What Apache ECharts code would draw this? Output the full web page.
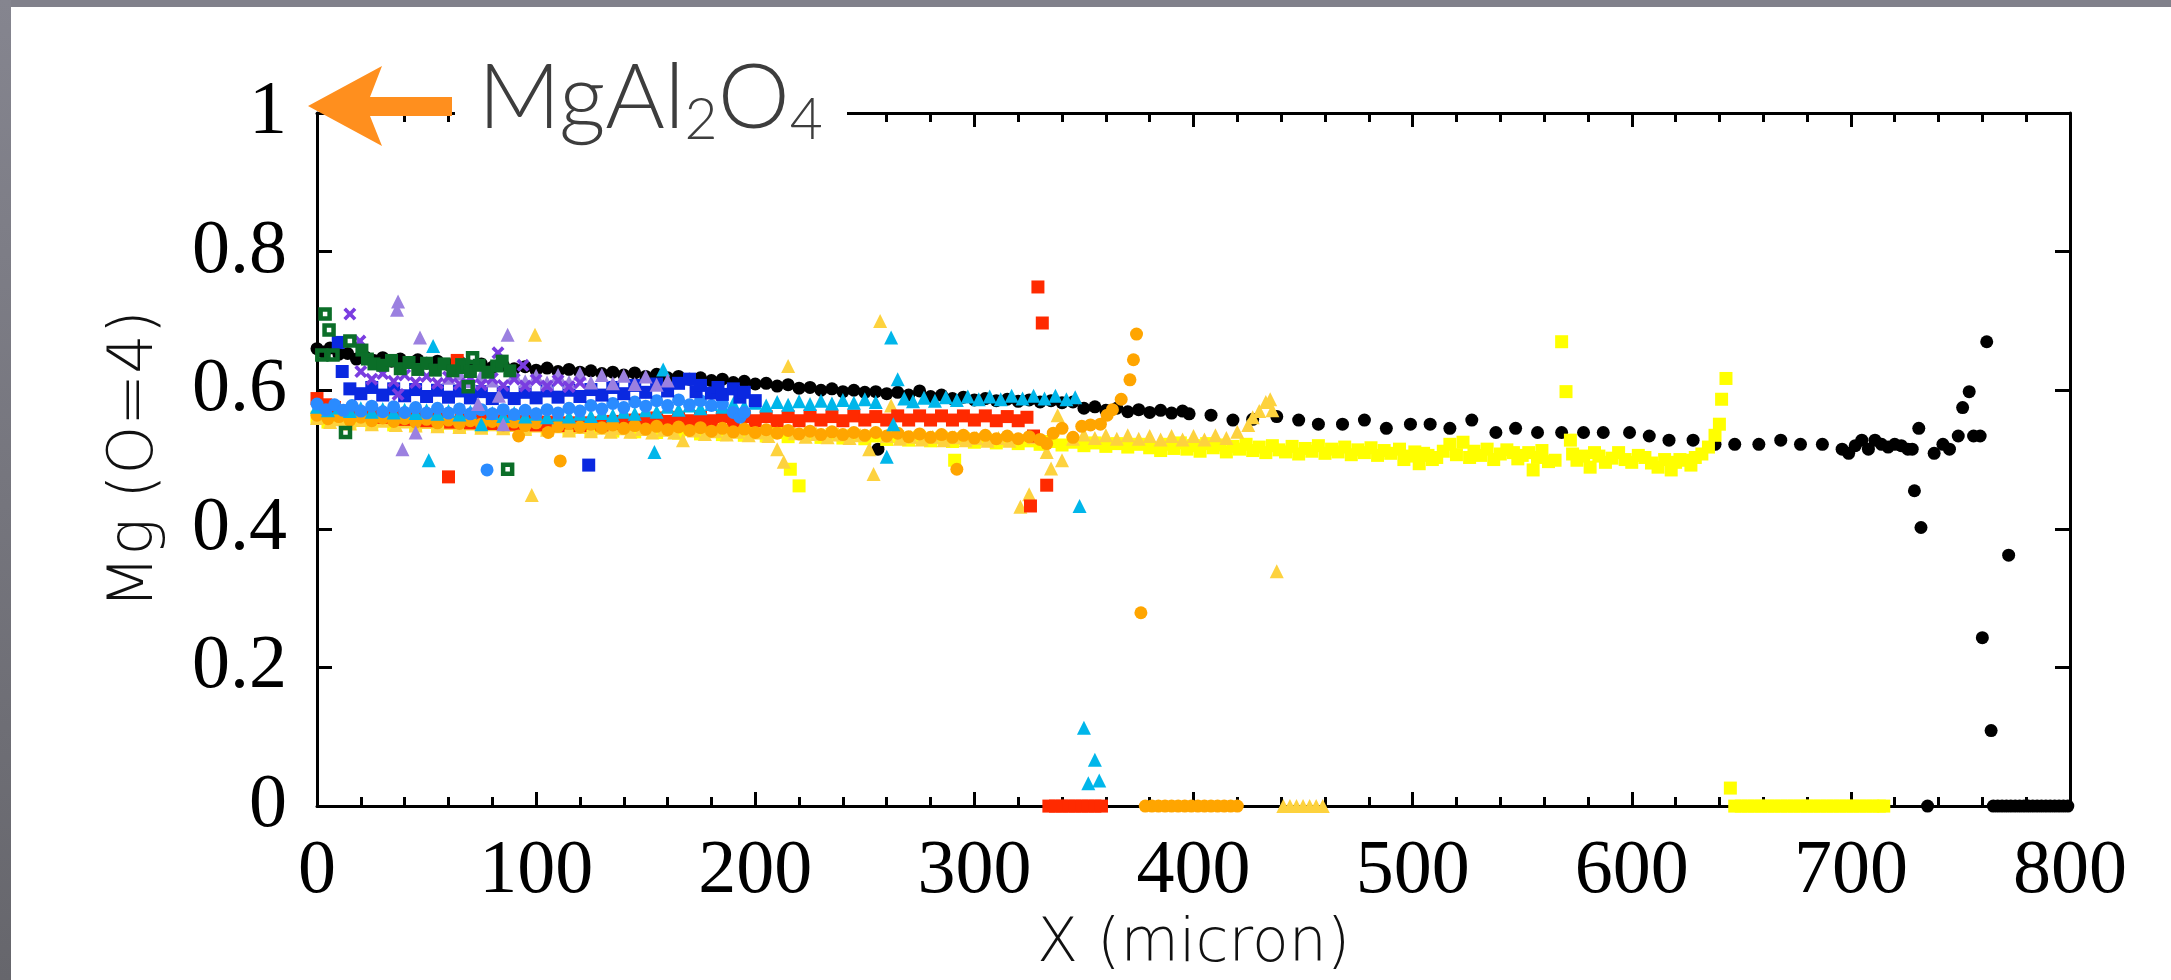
<!DOCTYPE html>
<html><head><meta charset="utf-8">
<script src="https://cdn.jsdelivr.net/npm/echarts@6/dist/echarts.min.js"></script>
<style>
html,body{margin:0;padding:0;background:#fff;overflow:hidden;}
#chart{position:absolute;left:0;top:0;width:2171px;height:980px;}
#fTop{position:absolute;left:0;top:0;width:2171px;height:7px;background:#81818b;z-index:5}
#fLeft{position:absolute;left:0;top:0;width:11px;height:980px;background:linear-gradient(#85858f,#66666c);z-index:5}
</style></head><body>
<div id="chart"></div><div id="fTop"></div><div id="fLeft"></div>
<script>
// ---- axis settings ----
const xRange = [0, 800], xStep = 100;
const yRange = [0, 1], yStep = 0.2;
const xTitle = 'X (micron)';
const yTitle = 'Mg (O=4)';
const phaseLabel = ['MgAl', '2', 'O', '4'];

// ---- series values [X (micron), Mg] ----
const blackCircles = [[0,.660],[3,.655],[6,.661],[10,.652],[14,.653],[18,.645],[22,.648],[26,.643],[30,.647],[34,.642],[38,.645],[42,.640],[46,.644],[50,.639],[55,.642],[60,.637],[65,.641],[70,.635],[75,.638],[80,.633],[85,.636],[90,.631],[95,.634],[100,.629],[105,.632],[110,.627],[115,.630],[120,.626],[125,.628],[130,.624],[135,.626],[140,.622],[145,.625],[150,.620],[155,.623],[160,.618],[165,.620],[170,.616],[175,.618],[180,.614],[185,.616],[190,.611],[195,.613],[200,.609],[205,.610],[210,.606],[215,.608],[220,.603],[225,.604],[230,.600],[235,.602],[240,.598],[245,.600],[250,.597],[255,.598],[256,.515],[260,.595],[265,.597],[270,.593],[275,.599],[280,.591],[285,.593],[290,.588],[295,.590],[300,.586],[305,.588],[310,.585],[315,.587],[320,.584],[325,.586],[330,.583],[335,.585],[340,.582],[345,.583],[350,.574],[355,.576],[360,.571],[365,.574],[370,.569],[375,.572],[380,.568],[385,.571],[390,.567],[395,.570],[398,.566],
[408,.564],[418,.557],[427,.558],[438,.562],[448,.557],[457,.551],[468,.551],[478,.557],[488,.545],[499,.551],[508,.551],[517,.545],[527,.557],[538,.539],[547,.545],[557,.539],[568,.539],[578,.539],[587,.539],[599,.539],[608,.534],[617,.528],[628,.528],[638,.522],[647,.522],[658,.522],[668,.528],[677,.522],[687,.522],[696,.515],[699,.509],[702,.520],[705,.528],[708,.515],[711,.528],[714,.522],[717,.518],[720,.522],[723,.520],[726,.515],[728,.515],[729,.455],[731,.545],[732,.402],[735,0],[738,.509],[742,.522],[745,.515],[749,.534],[751,.575],[754,.598],[756,.534],[759,.534],[760,.243],[762,.670],[764,.109],[772,.362],
[765,0],[767,0],[769,0],[771,0],[773,0],[775,0],[777,0],[779,0],[781,0],[783,0],[785,0],[787,0],[789,0],[791,0],[793,0],[795,0],[797,0],[799,0]];

const yellowSquares = [[0,.561],[5,.554],[10,.559],[15,.552],[20,.557],[25,.551],[30,.557],[35,.550],[40,.555],[45,.549],[50,.554],[55,.548],[60,.553],[65,.547],[70,.553],[75,.546],[80,.551],[85,.545],[90,.550],[95,.545],[100,.549],[105,.544],[110,.548],[115,.543],[120,.548],[125,.542],[130,.547],[135,.541],[140,.546],[145,.540],[150,.545],[155,.539],[160,.544],[165,.538],[170,.543],[175,.537],[180,.542],[185,.536],[190,.541],[195,.535],[200,.540],[205,.534],[210,.539],[215,.533],[216,.486],[220,.462],[225,.537],[230,.532],[235,.536],[240,.531],[245,.535],[250,.530],[255,.534],[260,.529],[265,.533],[270,.528],[275,.532],[280,.527],[285,.531],[290,.526],[291,.499],[295,.530],[300,.525],[305,.529],[310,.524],[315,.528],[320,.523],[325,.527],[330,.522],[335,.526],[340,.521],[345,.525],[350,.520],[355,.524],[360,.519],[365,.523],[370,.518],[375,.522],[380,.517],
[385,.513],[388,.522],[391,.516],[394,.524],[397,.515],[400,.520],[403,.512],[406,.523],[409,.517],[412,.521],[415,.511],[418,.519],[421,.515],[424,.522],[427,.513],[430,.518],[433,.510],[436,.520],[439,.514],[442,.511],[445,.519],[448,.508],[451,.516],[454,.512],[457,.520],[460,.509],[463,.515],[466,.511],[469,.518],[472,.507],[475,.514],[478,.510],[481,.517],[484,.506],[487,.513],[490,.509],[494,.515],[496,.500],[498,.505],[501,.511],[503,.494],[505,.509],[507,.506],[509,.500],[511,.503],[514,.512],[517,.522],[520,.507],[523,.525],[526,.503],[528,.512],[531,.506],[534,.515],[537,.500],[540,.508],[543,.514],[546,.510],[548,.501],[550,.506],[553,.510],[555,.485],[557,.503],[559,.513],[562,.497],[565,.499],[568,.670],[570,.598],[572,.528],[573,.508],[575,.499],[578,.505],[581,.489],[583,.510],[585,.505],[588,.496],[591,.502],[594,.510],[597,.500],[600,.496],[603,.506],[606,.503],[609,.495],[612,.489],[615,.500],[618,.485],[620,.496],[622,.500],[625,.499],[627,.492],[629,.503],[632,.508],[635,.518],[638,.535],[640,.551],[641,.587],[643,.617],[645,.026],
[647,0],[650,0],[653,0],[656,0],[659,0],[662,0],[665,0],[668,0],[671,0],[674,0],[677,0],[680,0],[683,0],[686,0],[689,0],[692,0],[695,0],[698,0],[701,0],[704,0],[707,0],[710,0],[713,0],[715,0]];

const goldTriangles = [[0,.560],[6,.554],[10,.558],[15,.552],[20,.557],[25,.551],[30,.556],[36,.550],[40,.555],[45,.549],[50,.554],[55,.548],[60,.553],[65,.547],[70,.552],[75,.546],[80,.551],[85,.545],[90,.550],[95,.544],[98,.449],[99.5,.680],[100,.549],[105,.543],[110,.548],[115,.542],[120,.547],[125,.541],[130,.546],[134,.540],[138,.545],[143,.540],[148,.544],[153,.539],[158,.543],[163,.539],[167,.528],[172,.542],[177,.537],[182,.541],[187,.536],[192,.540],[197,.535],[202,.539],[206,.534],[210,.515],[213,.497],[215,.635],[218,.538],[223,.533],[228,.537],[233,.532],[238,.536],[243,.531],[248,.535],[252,.515],[254,.479],[257,.700],[260,.534],[262,.578],[266,.530],[271,.533],[276,.529],[281,.533],[286,.528],[291,.532],[296,.528],[301,.531],[306,.527],[311,.531],[316,.527],[321,.432],[325,.450],[327,.532],[333,.511],[335,.487],[338,.564],[340,.499],[345,.530],[350,.536],[355,.531],[360,.535],[365,.530],[370,.535],[375,.530],[380,.534],[385,.529],[390,.534],[395,.529],[400,.534],[405,.529],[410,.535],[415,.531],[420,.540],[425,.550],[427,.561],[430,.570],[433,.583],[435,.587],[436,.571],[438,.339],
[441,0],[444,0],[447,0],[450,0],[453,0],[456,0],[459,0]];

const orangeCircles = [[0,.564],[5,.559],[10,.562],[15,.557],[20,.561],[25,.556],[30,.560],[35,.555],[40,.559],[45,.554],[50,.558],[55,.553],[60,.557],[65,.552],[70,.556],[75,.551],[80,.555],[85,.550],[90,.554],[92,.534],[95,.549],[100,.553],[105.5,.539],[110,.548],[111,.498],[115,.552],[120,.547],[125,.551],[130,.546],[135,.550],[140,.545],[145,.549],[150,.544],[155,.548],[160,.543],[165,.547],[170,.542],[175,.546],[180,.541],[185,.545],[190,.540],[195,.544],[200,.539],[205,.543],[210,.538],[215,.542],[220,.537],[225,.541],[230,.536],[235,.540],[240,.536],[245,.539],[250,.535],[255,.539],[260,.534],[265,.538],[270,.533],[275,.537],[280,.532],[285,.536],[290,.532],[292,.486],[295,.535],[300,.531],[305,.535],[310,.530],[315,.534],[320,.530],[325,.533],[330,.529],[333,.523],[336,.538],[340,.545],[345,.532],[349,.548],[353,.550],[357.5,.551],[360.6,.564],[363,.572],[367,.587],[371,.615],[372.6,.644],[374,.681],[376,.279],
[378,0],[381,0],[384,0],[387,0],[390,0],[393,0],[396,0],[399,0],[402,0],[405,0],[408,0],[411,0],[414,0],[417,0],[420,0]];

const redSquares = [[0,.588],[4,.579],[8,.575],[12,.570],[16,.570],[20,.565],[25,.566],[30,.561],[35,.563],[40,.558],[45,.561],[50,.556],[55,.559],[60,.475],[61,.554],[64,.643],[66,.558],[70,.553],[75,.557],[80,.552],[85,.556],[90,.551],[95,.555],[100,.550],[105,.554],[110,.549],[115,.553],[120,.549],[125,.553],[130,.550],[135,.555],[140,.552],[145,.557],[150,.554],[155,.560],[160,.555],[165,.561],[170,.556],[175,.562],[180,.556],[185,.562],[190,.556],[195,.562],[200,.556],[205,.562],[210,.556],[215,.562],[220,.556],[225,.563],[230,.557],[235,.562],[240,.556],[245,.563],[250,.557],[255,.562],[260,.557],[265,.563],[270,.557],[275,.563],[280,.557],[285,.563],[290,.557],[295,.563],[300,.557],[305,.563],[310,.556],[315,.562],[320,.556],[324,.561],[325.6,.433],[327,.534],[329,.749],[331,.697],[333,.463],
[334,0],[337,0],[340,0],[343,0],[346,0],[349,0],[352,0],[355,0],[358,0]];

const cyanTriangles = [[0,.576],[5,.571],[10,.575],[15,.570],[20,.574],[25,.569],[30,.573],[35,.568],[40,.572],[45,.567],[50,.571],[51,.499],[53,.664],[55,.566],[60,.570],[65,.565],[70,.569],[75,.551],[80,.567],[85,.563],[90,.567],[95,.562],[100,.566],[105,.561],[110,.565],[115,.562],[120,.566],[125,.563],[130,.567],[135,.564],[140,.569],[145,.566],[150,.571],[154,.511],[155,.569],[158,.630],[160,.576],[165,.572],[170,.578],[175,.574],[180,.580],[185,.576],[190,.581],[195,.577],[200,.582],[205,.578],[210,.583],[215,.579],[220,.584],[225,.580],[230,.585],[235,.581],[240,.586],[245,.582],[250,.587],[255,.583],[260,.504],[262,.676],[263,.551],[265,.616],[268,.588],[272,.584],[277,.589],[282,.585],[287,.590],[292,.586],[297,.591],[302,.587],[307,.591],[312,.587],[317,.592],[322,.588],[327,.592],[332,.588],[337,.592],[342,.587],[346,.590],[348,.433],[350,.113],[352,.033],[355,.067],[357,.037]];

const blueCircles = [[0,.580],[4,.572],[8,.579],[12,.571],[16,.578],[20,.570],[25,.577],[30,.569],[35,.576],[40,.568],[45,.575],[50,.567],[55,.574],[60,.567],[65,.573],[70,.566],[75,.572],[77.6,.485],[80,.566],[85,.572],[90,.565],[95,.571],[100,.566],[105,.572],[110,.567],[115,.574],[120,.570],[125,.578],[130,.573],[135,.581],[140,.575],[145,.583],[150,.577],[155,.585],[160,.578],[165,.586],[170,.579],[175,.585],[180,.578],[185,.580],[190,.568],[193,.561],[195,.568]];

const navySquares = [[9.7,.669],[11.5,.627],[15,.602],[20,.595],[25,.604],[30,.593],[35,.602],[40,.592],[45,.601],[50,.591],[55,.600],[60,.590],[65,.599],[70,.589],[75,.598],[80,.588],[85,.597],[90,.588],[95,.597],[100,.589],[105,.599],[110,.590],[115,.600],[120,.591],[124,.492],[125,.601],[130,.593],[135,.604],[140,.595],[145,.607],[150,.597],[155,.609],[160,.599],[165,.610],[170,.616],[173,.598],[175,.607],[180,.596],[183,.604],[185,.594],[190,.602],[193,.590],[195,.597],[200,.585]];

const lavenderTriangles = [[36.5,.716],[37,.728],[39,.515],[45,.539],[47,.676],[60,.618],[65,.624],[70,.613],[73.5,.580],[75,.622],[80,.614],[83,.592],[85,.551],[87,.680],[90,.623],[95,.613],[100,.621],[105,.611],[110,.622],[115,.612],[120,.624],[125,.611],[130,.622],[135,.610],[140,.621],[145,.609],[150,.620],[155,.608],[160,.614]];

const purpleCrosses = [[15,.710],[19.6,.671],[20,.627],[25,.616],[30,.624],[35,.613],[37,.594],[40,.622],[45,.611],[50,.620],[55,.610],[60,.619],[65,.609],[70,.618],[75,.608],[80,.617],[82.6,.654],[85,.607],[90,.616],[94,.636],[95,.606],[100,.615],[105,.606],[110,.614],[115,.605],[120,.611]];

const greenSquares = [[20.5,.658],[23,.645],[26,.638],[30,.636],[34,.643],[38,.631],[42,.640],[46,.630],[50,.639],[54,.629],[58,.638],[62,.628],[66,.637],[70,.627],[74,.636],[78,.626],[82,.635],[84.5,.642],[88,.628]];

const greenOpenSquares = [[2.2,.651],[3.7,.710],[5.5,.687],[7.3,.651],[13,.539],[15,.671],[66.6,.633],[69,.605],[71,.647],[87,.486]];

// ---- chart ----
const serifFont = 'Liberation Serif';
const sansFont = 'DejaVu Sans';
const labelFont = 'Lato';
const crossPath = 'path://M2,0 L5,3 L8,0 L10,2 L7,5 L10,8 L8,10 L5,7 L2,10 L0,8 L3,5 L0,2 Z';

function sc(name, data, symbol, size, color, extraStyle) {
  return {
    name, type: 'scatter', data, symbol, symbolSize: size, clip: false,
    itemStyle: Object.assign({ color: color, opacity: 1 }, extraStyle || {}),
    emphasis: { disabled: true }, silent: true
  };
}

const axisLineStyle = { color: '#000', width: 3 };
function xAx(pos, showLabel) {
  return {
    type: 'value', position: pos, min: xRange[0], max: xRange[1], interval: xStep,
    axisLine: { show: true, onZero: false, lineStyle: axisLineStyle },
    axisTick: { show: true, inside: true, length: 14, lineStyle: axisLineStyle },
    minorTick: { show: true, splitNumber: 5, length: 9, lineStyle: axisLineStyle },
    splitLine: { show: false }, minorSplitLine: { show: false },
    axisLabel: { show: showLabel, fontFamily: serifFont, fontSize: 76, color: '#000', margin: 28 },
    name: showLabel ? xTitle : '', nameLocation: 'middle', nameGap: 108,
    nameTextStyle: { fontFamily: sansFont, fontSize: 60, fontWeight: 200, color: '#111' }
  };
}
function yAx(pos, showLabel) {
  return {
    type: 'value', position: pos, min: yRange[0], max: yRange[1], interval: yStep,
    axisLine: { show: true, onZero: false, lineStyle: axisLineStyle },
    axisTick: { show: true, inside: true, length: 15, lineStyle: axisLineStyle },
    splitLine: { show: false },
    axisLabel: { show: showLabel, fontFamily: serifFont, fontSize: 76, color: '#000', margin: 30 },
    name: showLabel ? yTitle : '', nameLocation: 'middle', nameGap: 150,
    nameTextStyle: { fontFamily: sansFont, fontSize: 62, fontWeight: 200, color: '#111' }
  };
}

const chart = echarts.init(document.getElementById('chart'), null, { renderer: 'canvas' });
chart.setOption({
  animation: false,
  backgroundColor: '#fff',
  grid: { left: 317, right: 101, top: 113, bottom: 169, containLabel: false },
  xAxis: [xAx('bottom', true), xAx('top', false)],
  yAxis: [yAx('left', true), yAx('right', false)],
  series: [
    sc('black', blackCircles, 'circle', 13, '#000'),
    sc('yellow', yellowSquares, 'rect', 13, '#ffff00'),
    sc('gold', goldTriangles, 'triangle', 14, '#fdd23e'),
    sc('red', redSquares, 'rect', 13, '#ff2a00'),
    sc('orange', orangeCircles, 'circle', 13, '#ffa500'),
    sc('cyan', cyanTriangles, 'triangle', 14, '#00b6ea'),
    sc('blue', blueCircles, 'circle', 13, '#2a8bff'),
    sc('navy', navySquares, 'rect', 13, '#0a28e0'),
    sc('lavender', lavenderTriangles, 'triangle', 14, '#9b80e0'),
    sc('purple', purpleCrosses, crossPath, 13, '#7a3de0'),
    sc('green', greenSquares, 'rect', 13, '#0b6e28'),
    sc('greenOpen', greenOpenSquares, 'rect', 9, 'rgba(0,0,0,0)', { borderColor: '#0b6e28', borderWidth: 4.5 })
  ],
  graphic: [
    { type: 'rect', z: 90, shape: { x: 455, y: 92, width: 392, height: 40 }, style: { fill: '#fff' } },
    { type: 'polygon', z: 100, shape: { points: [[308,106],[382,66],[370,97],[452,97],[452,116],[370,116],[382,146]] }, style: { fill: '#ff8f1e' } },
    { type: 'text', z: 100, x: 478, y: 99,
      style: {
        text: '{a|' + phaseLabel[0] + '}{s|' + phaseLabel[1] + '}{a|' + phaseLabel[2] + '}{s|' + phaseLabel[3] + '}',
        align: 'left', verticalAlign: 'middle',
        rich: {
          a: { fontFamily: labelFont, fontSize: 91, fontWeight: 300, fill: '#3d3d3d', lineHeight: 100, verticalAlign: 'middle' },
          s: { fontFamily: labelFont, fontSize: 57, fontWeight: 300, fill: '#3d3d3d', lineHeight: 60, verticalAlign: 'bottom' }
        }
      }
    }
  ]
});
</script></body></html>
